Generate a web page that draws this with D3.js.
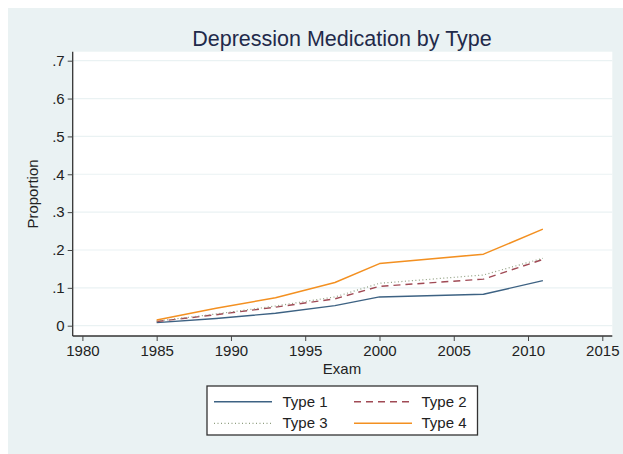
<!DOCTYPE html>
<html>
<head>
<meta charset="utf-8">
<script src="https://cdn.jsdelivr.net/npm/d3@7"></script>
<style>
  html, body { margin: 0; padding: 0; background: #ffffff; }
  svg { display: block; font-family: "Liberation Sans", Arial, sans-serif; }
</style>
</head>
<body>
<svg id="chart" width="623" height="454"></svg>
<script>
// Exam midpoint years
const years = [1985, 1989, 1993, 1997, 2000, 2007, 2011];
// Proportion on depression medication, by type
const type1 = [0.008, 0.019, 0.033, 0.053, 0.076, 0.083, 0.119];
const type2 = [0.011, 0.029, 0.049, 0.071, 0.104, 0.123, 0.175];
const type3 = [0.012, 0.031, 0.052, 0.076, 0.112, 0.134, 0.178];
const type4 = [0.015, 0.046, 0.074, 0.114, 0.164, 0.189, 0.255];
const seriesNames = ["Type 1", "Type 2", "Type 3", "Type 4"];
const xTicks = [1980, 1985, 1990, 1995, 2000, 2005, 2010, 2015];
const yTicks = [0, 0.1, 0.2, 0.3, 0.4, 0.5, 0.6, 0.7];
const yTickLabels = ["0", ".1", ".2", ".3", ".4", ".5", ".6", ".7"];

const styles = [
  { color: "#3d6283", dash: null, width: 1.4 },
  { color: "#a04a55", dash: "7,5", width: 1.4 },
  { color: "#8f9e80", dash: "1,2.5", width: 1.2 },
  { color: "#f39021", dash: null, width: 1.5 }
];

const svg = d3.select("#chart");

// outer graph region
svg.append("rect").attr("x", 8).attr("y", 8).attr("width", 615).attr("height", 446)
  .attr("fill", "#eaf2f3");

const plot = { left: 72.7, right: 612.3, top: 51.7, bottom: 336 };
svg.append("rect").attr("x", plot.left).attr("y", plot.top)
  .attr("width", plot.right - plot.left).attr("height", plot.bottom - plot.top)
  .attr("fill", "#ffffff");

const x = d3.scaleLinear().domain([1980, 2015]).range([82.4, 602.3]);
const y = d3.scaleLinear().domain([0, 0.7]).range([325.7, 60.7]);

// gridlines
svg.append("g").selectAll("line").data(yTicks).join("line")
  .attr("x1", plot.left).attr("x2", plot.right)
  .attr("y1", d => y(d)).attr("y2", d => y(d))
  .attr("stroke", "#eaf2f3").attr("stroke-width", 1.2);

// y axis
const yAxis = svg.append("g").attr("transform", `translate(${plot.left},0)`)
  .call(d3.axisLeft(y).tickValues(yTicks).tickSize(5).tickPadding(3)
    .tickFormat((d, i) => yTickLabels[i]));
yAxis.select(".domain").attr("d", `M0,${plot.top}V${plot.bottom}`).attr("stroke", "#333").attr("stroke-width", 1.3);
yAxis.selectAll(".tick line").attr("stroke", "#444");
yAxis.selectAll(".tick text").attr("font-size", 15).attr("fill", "#222")
  .attr("font-family", "Liberation Sans, Arial, sans-serif");

// x axis
const xAxis = svg.append("g").attr("transform", `translate(0,${plot.bottom})`)
  .call(d3.axisBottom(x).tickValues(xTicks).tickSize(5).tickPadding(4).tickFormat(d3.format("d")));
xAxis.select(".domain").attr("d", `M${plot.left},0H${plot.right}`).attr("stroke", "#333").attr("stroke-width", 1.3);
xAxis.selectAll(".tick line").attr("stroke", "#444");
xAxis.selectAll(".tick text").attr("font-size", 15).attr("fill", "#222")
  .attr("font-family", "Liberation Sans, Arial, sans-serif");

// axis titles
svg.append("text").attr("x", 342).attr("y", 374).attr("text-anchor", "middle")
  .attr("font-size", 15).attr("fill", "#222").text("Exam");
svg.append("text").attr("transform", "translate(38,194) rotate(-90)")
  .attr("text-anchor", "middle").attr("font-size", 15).attr("fill", "#222").text("Proportion");

// title
svg.append("text").attr("x", 342).attr("y", 46).attr("text-anchor", "middle")
  .attr("font-size", 21.5).attr("fill", "#1f2a4a").text("Depression Medication by Type");

// series lines
const allSeries = [type1, type2, type3, type4];
const line = d3.line().x((d, i) => x(years[i])).y(d => y(d));
allSeries.forEach((vals, k) => {
  svg.append("path").datum(vals).attr("d", line)
    .attr("fill", "none").attr("stroke", styles[k].color)
    .attr("stroke-width", styles[k].width)
    .attr("stroke-dasharray", styles[k].dash)
    .attr("stroke-linejoin", "round");
});

// legend
const lg = svg.append("g");
lg.append("rect").attr("x", 207).attr("y", 386).attr("width", 270.5).attr("height", 49)
  .attr("fill", "#ffffff").attr("stroke", "#333").attr("stroke-width", 1.3);
const cols = [{ lx: 214, tx: 282.5 }, { lx: 354, tx: 421.5 }];
const rows = [401.7, 423.3];
seriesNames.forEach((name, k) => {
  const c = cols[k % 2], r = rows[Math.floor(k / 2)];
  lg.append("line").attr("x1", c.lx).attr("x2", c.lx + 58).attr("y1", r).attr("y2", r)
    .attr("stroke", styles[k].color).attr("stroke-width", styles[k].width)
    .attr("stroke-dasharray", styles[k].dash);
  lg.append("text").attr("x", c.tx).attr("y", r + 5).attr("font-size", 15)
    .attr("fill", "#222").text(name);
});
</script>
</body>
</html>
